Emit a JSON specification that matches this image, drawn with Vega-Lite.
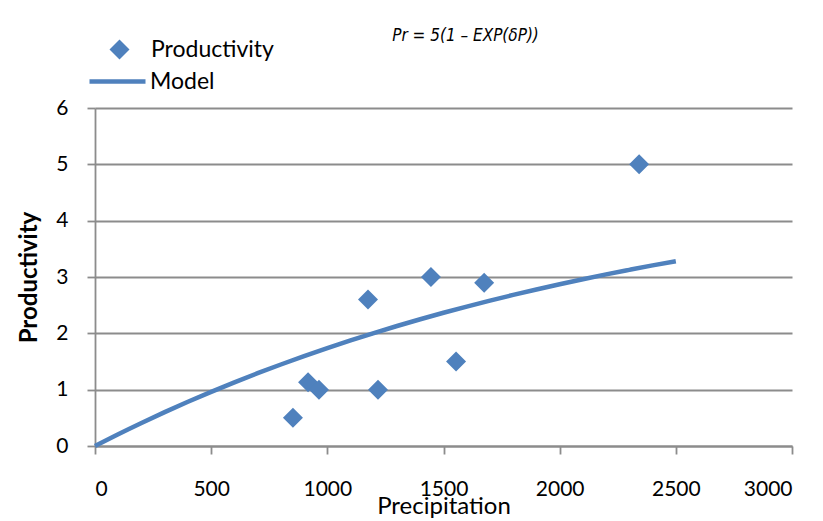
{
  "$schema": "https://vega.github.io/schema/vega-lite/v6.json",
  "width": 697,
  "height": 338,
  "autosize": {"type": "none"},
  "padding": {"left": 95, "top": 108, "right": 31, "bottom": 75},
  "background": "white",
  "title": {
    "text": "Pr = 5(1 – EXP(δP))",
    "font": "DejaVu Sans Condensed, Liberation Sans Narrow, Lato, sans-serif",
    "fontStyle": "italic",
    "fontWeight": "normal",
    "fontSize": 17,
    "color": "black",
    "anchor": "middle",
    "frame": "group",
    "dx": 22,
    "offset": -7
  },
  "config": {
    "view": {"stroke": null},
    "font": "Lato",
    "axis": {
      "labelFont": "Lato",
      "titleFont": "Lato",
      "labelColor": "black",
      "titleColor": "black",
      "gridColor": "#8c8c8c",
      "gridWidth": 1.8,
      "domainColor": "#8c8c8c",
      "domainWidth": 1.8,
      "tickColor": "#8c8c8c",
      "tickWidth": 1.8,
      "tickSize": 8,
      "labelFontSize": 21
    }
  },
  "datasets": {
    "obs": [
      {"P": 852, "Pr": 0.5, "series": "Productivity"},
      {"P": 917, "Pr": 1.13, "series": "Productivity"},
      {"P": 964, "Pr": 1.0, "series": "Productivity"},
      {"P": 1175, "Pr": 2.6, "series": "Productivity"},
      {"P": 1218, "Pr": 1.0, "series": "Productivity"},
      {"P": 1446, "Pr": 3.0, "series": "Productivity"},
      {"P": 1554, "Pr": 1.5, "series": "Productivity"},
      {"P": 1675, "Pr": 2.9, "series": "Productivity"},
      {"P": 2342, "Pr": 5.0, "series": "Productivity"}
    ],
    "model": [
      {"P": 0, "Pr": 0, "series": "Model"},
      {"P": 100, "Pr": 0.209, "series": "Model"},
      {"P": 200, "Pr": 0.409, "series": "Model"},
      {"P": 300, "Pr": 0.601, "series": "Model"},
      {"P": 400, "Pr": 0.785, "series": "Model"},
      {"P": 500, "Pr": 0.961, "series": "Model"},
      {"P": 600, "Pr": 1.130, "series": "Model"},
      {"P": 700, "Pr": 1.292, "series": "Model"},
      {"P": 800, "Pr": 1.447, "series": "Model"},
      {"P": 900, "Pr": 1.596, "series": "Model"},
      {"P": 1000, "Pr": 1.738, "series": "Model"},
      {"P": 1100, "Pr": 1.874, "series": "Model"},
      {"P": 1200, "Pr": 2.005, "series": "Model"},
      {"P": 1300, "Pr": 2.130, "series": "Model"},
      {"P": 1400, "Pr": 2.250, "series": "Model"},
      {"P": 1500, "Pr": 2.365, "series": "Model"},
      {"P": 1600, "Pr": 2.475, "series": "Model"},
      {"P": 1700, "Pr": 2.581, "series": "Model"},
      {"P": 1800, "Pr": 2.682, "series": "Model"},
      {"P": 1900, "Pr": 2.779, "series": "Model"},
      {"P": 2000, "Pr": 2.871, "series": "Model"},
      {"P": 2100, "Pr": 2.960, "series": "Model"},
      {"P": 2200, "Pr": 3.046, "series": "Model"},
      {"P": 2300, "Pr": 3.127, "series": "Model"},
      {"P": 2400, "Pr": 3.206, "series": "Model"},
      {"P": 2500, "Pr": 3.281, "series": "Model"}
    ]
  },
  "layer": [
    {
      "data": {"name": "model"},
      "mark": {"type": "line", "strokeWidth": 4.5, "interpolate": "monotone"},
      "encoding": {
        "x": {
          "field": "P",
          "type": "quantitative",
          "scale": {"domain": [0, 3000]},
          "axis": {
            "values": [0, 500, 1000, 1500, 2000, 2500, 3000],
            "format": "d",
            "grid": false,
            "labelPadding": 24,
            "title": "Precipitation",
            "titleFontSize": 24,
            "titleFontWeight": "normal",
            "titlePadding": -5
          }
        },
        "y": {
          "field": "Pr",
          "type": "quantitative",
          "scale": {"domain": [0, 6]},
          "axis": {
            "values": [0, 1, 2, 3, 4, 5, 6],
            "format": "d",
            "grid": true,
            "labelPadding": 19,
            "title": "Productivity",
            "titleFontSize": 24,
            "titleFontWeight": "bold",
            "titlePadding": 14
          }
        },
        "color": {
          "field": "series",
          "type": "nominal",
          "scale": {"domain": ["Model"], "range": ["#4F81BD"]},
          "legend": {
            "orient": "none",
            "legendX": -8,
            "legendY": -57,
            "title": null,
            "padding": 0,
            "symbolType": "stroke",
            "symbolSize": 3136,
            "symbolStrokeWidth": 4.5,
            "symbolStrokeColor": "#4F81BD",
            "labelOffset": 2,
            "labelFontSize": 23,
            "labelFont": "Lato",
            "labelColor": "black"
          }
        }
      }
    },
    {
      "data": {"name": "obs"},
      "mark": {"type": "point", "filled": true, "size": 400, "color": "#4F81BD", "opacity": 1},
      "encoding": {
        "x": {"field": "P", "type": "quantitative"},
        "y": {"field": "Pr", "type": "quantitative"},
        "shape": {
          "field": "series",
          "type": "nominal",
          "scale": {"domain": ["Productivity"], "range": ["diamond"]},
          "legend": {
            "orient": "none",
            "legendX": 13,
            "legendY": -70,
            "title": null,
            "padding": 0,
            "symbolSize": 400,
            "symbolFillColor": "#4F81BD",
            "symbolStrokeWidth": 0,
            "symbolOpacity": 1,
            "labelOffset": 20,
            "labelFontSize": 23,
            "labelFont": "Lato",
            "labelColor": "black"
          }
        }
      }
    }
  ]
}
